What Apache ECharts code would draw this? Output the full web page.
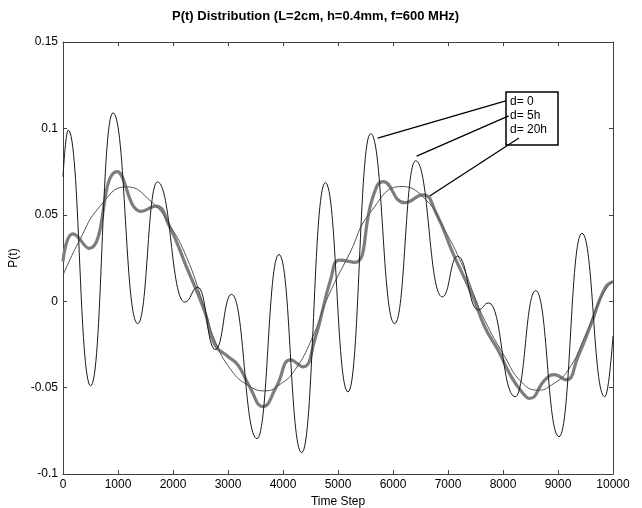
<!DOCTYPE html>
<html>
<head>
<meta charset="utf-8">
<script src="https://cdn.jsdelivr.net/npm/echarts@6/dist/echarts.min.js"></script>
<style>
  html, body { margin: 0; padding: 0; background: #fff; }
  #main { width: 642px; height: 508px; }
</style>
</head>
<body>
<div id="main"></div>
<script>
// series names as shown in the box
const seriesNames = ['d= 0', 'd= 5h', 'd= 20h'];

// d = 0 : thin black, strong oscillation  [time step, P(t)]
const d0 = [
    [0, 0.072], [95, 0.099], [504, -0.049], [909, 0.109], [1358, -0.013],
    [1716, 0.069], [2213, -0.0005], [2452, 0.008], [2770, -0.028], [3065, 0.004],
    [3527, -0.0795], [3927, 0.027], [4340, -0.0876], [4770, 0.0686], [5182, -0.0525],
    [5594, 0.097], [6030, -0.013], [6412, 0.0813], [6895, 0.0025], [7175, 0.026],
    [7548, -0.005], [7742, -0.001], [8220, -0.0553], [8595, 0.0061], [9018, -0.0784],
    [9436, 0.0393], [9849, -0.0553], [10000, -0.02]
];

// d = 5h : thick gray
const d5h = [
    [0, 0.023], [182, 0.039], [473, 0.0305], [982, 0.075], [1425, 0.052],
    [1685, 0.055], [1940, 0.043], [2243, 0.02], [2576, -0.006], [2758, -0.025],
    [3000, -0.032], [3182, -0.037], [3394, -0.0496], [3636, -0.061], [3879, -0.0496],
    [4139, -0.034], [4364, -0.038], [4576, -0.0225], [4870, 0.013], [5030, 0.0238],
    [5303, 0.0225], [5636, 0.0604], [5820, 0.0692], [6210, 0.057], [6545, 0.0615],
    [6787, 0.0508], [7091, 0.0277], [7455, 0.0025], [7667, -0.0148], [7909, -0.0283],
    [8152, -0.0438], [8364, -0.0534], [8485, -0.0563], [8758, -0.0457], [8930, -0.0425],
    [9150, -0.0455], [9364, -0.032], [9606, -0.0129], [9849, 0.0074], [10000, 0.0112]
];

// d = 20h : thin gray, nearly sinusoidal
const d20h = [
    [0, 0.015], [303, 0.0354], [667, 0.0547], [1152, 0.0662], [1637, 0.0566],
    [1940, 0.044], [2243, 0.0257], [2546, -0.0013], [2758, -0.0225], [3061, -0.04],
    [3364, -0.0486], [3667, -0.0519], [3970, -0.0476], [4212, -0.04], [4515, -0.0225],
    [4818, 0.0025], [5212, 0.0277], [5576, 0.0508], [6160, 0.0664], [6606, 0.0585],
    [6909, 0.043], [7273, 0.02], [7485, 0.0025], [7667, -0.011], [8030, -0.032],
    [8333, -0.0467], [8640, -0.0515], [8879, -0.0486], [9182, -0.04], [9485, -0.0206],
    [9788, 0.0025], [10000, 0.012]
];

// leader lines from the label box to the curves: [box end, curve end]
const leaders = [
    [[8049, 0.1159], [5722, 0.0944]],
    [[8104, 0.1072], [6431, 0.0840]],
    [[8290, 0.0944], [6667, 0.0609]]
];

const font = 'Liberation Sans, Arial, sans-serif';
const frame = '#404040';

function axisBase(pos, min, max, step) {
    return {
        type: 'value', position: pos, min: min, max: max, interval: step,
        axisLine: { show: true, onZero: false, lineStyle: { color: frame, width: 1 } },
        axisTick: { show: true, inside: true, length: 4, lineStyle: { color: frame } },
        splitLine: { show: false },
        axisLabel: { show: false }
    };
}

let xMain = axisBase('bottom', 0, 10000, 1000);
xMain.name = 'Time Step';
xMain.nameLocation = 'middle';
xMain.nameGap = 20;
xMain.nameTextStyle = { fontFamily: font, fontSize: 12, color: '#000' };
xMain.axisLabel = { show: true, margin: 5, fontFamily: font, fontSize: 12, color: '#000',
    formatter: v => String(v) };

let yMain = axisBase('left', -0.1, 0.15, 0.05);
yMain.name = 'P(t)';
yMain.nameLocation = 'middle';
yMain.nameGap = 36;
yMain.nameTextStyle = { fontFamily: font, fontSize: 12, color: '#000' };
yMain.axisLabel = { show: true, margin: 5, fontFamily: font, fontSize: 12, color: '#000',
    formatter: v => String(parseFloat(v.toFixed(2))) };

let boxX = 506, boxY = 92;

let option = {
    backgroundColor: '#fff',
    animation: false,
    title: {
        text: 'P(t) Distribution (L=2cm, h=0.4mm, f=600 MHz)',
        left: 172,
        top: 10,
        padding: 0,
        textStyle: { fontFamily: font, fontSize: 13, fontWeight: 'bold', color: '#000' }
    },
    grid: { left: 63, right: 29, top: 42, bottom: 34, containLabel: false, outerBoundsMode: 'none' },
    xAxis: [xMain, axisBase('top', 0, 10000, 1000)],
    yAxis: [yMain, axisBase('right', -0.1, 0.15, 0.05)],
    series: [
        {
            name: seriesNames[1], type: 'line', data: d5h, showSymbol: false,
            smooth: 0.5, z: 2,
            lineStyle: { color: '#7d7d7d', width: 3.2 }
        },
        {
            name: seriesNames[2], type: 'line', data: d20h, showSymbol: false,
            smooth: 0.5, z: 3,
            lineStyle: { color: '#555', width: 1 }
        },
        {
            name: seriesNames[0], type: 'line', data: d0, showSymbol: false,
            smooth: 0.5, smoothMonotone: 'x', z: 4,
            lineStyle: { color: '#1a1a1a', width: 1 },
            markLine: {
                silent: true,
                symbol: ['none', 'none'],
                label: { show: false },
                lineStyle: { color: '#000', width: 1.3, type: 'solid' },
                data: leaders.map(l => [{ coord: l[0] }, { coord: l[1] }])
            }
        }
    ],
    graphic: [
        {
            type: 'rect', x: boxX, y: boxY, z: 10,
            shape: { width: 52, height: 53 },
            style: { fill: 'rgba(0,0,0,0)', stroke: '#000', lineWidth: 1.5 }
        }
    ].concat(seriesNames.map((n, i) => ({
        type: 'text', x: boxX + 4, y: boxY + 10 + i * 14, z: 10,
        style: { text: n, fontFamily: font, fontSize: 12, fill: '#000', verticalAlign: 'middle' }
    })))
};

let myChart = echarts.init(document.getElementById('main'));
myChart.setOption(option);
</script>
</body>
</html>
